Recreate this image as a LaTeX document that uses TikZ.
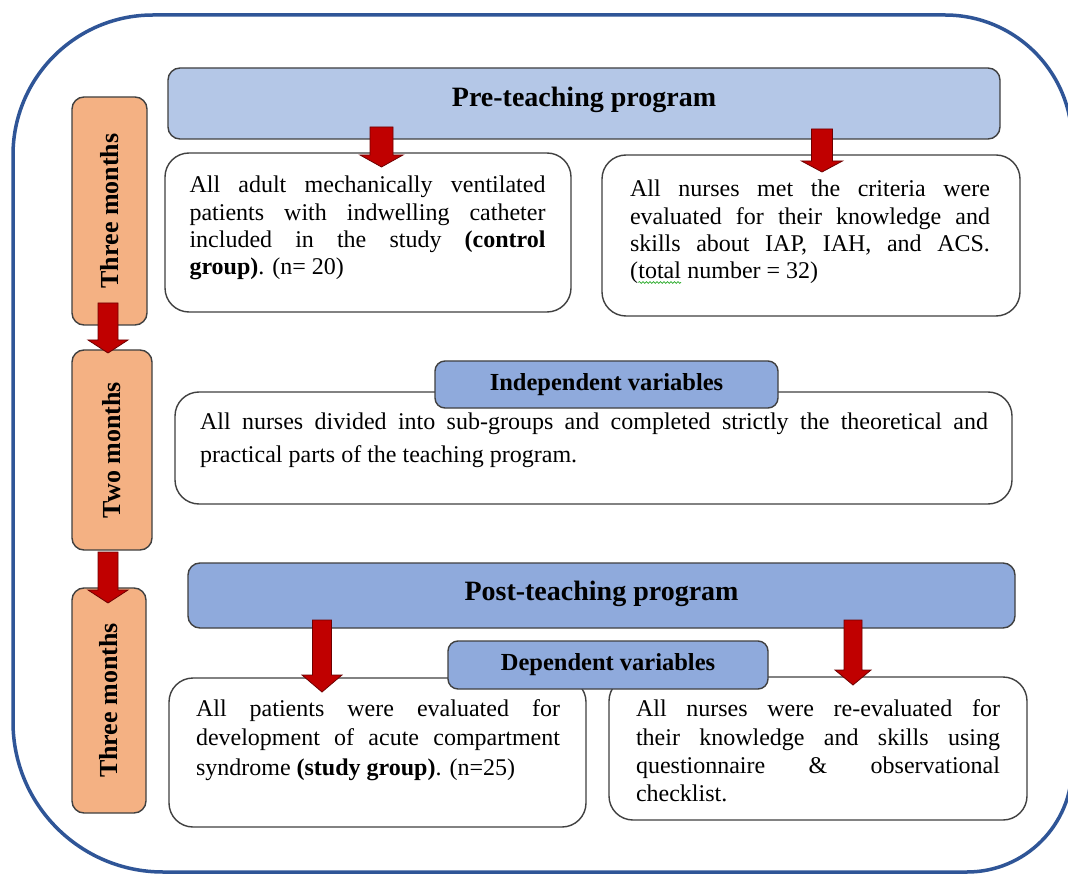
\documentclass[tikz,border=0pt]{standalone}
\usepackage{fontspec}
\setmainfont{Liberation Serif}
\usetikzlibrary{decorations.pathmorphing}
\definecolor{framecol}{RGB}{47,85,151}
\definecolor{boxline}{RGB}{64,64,64}
\definecolor{lightblue}{RGB}{180,199,231}
\definecolor{midblue}{RGB}{143,170,220}
\definecolor{orangefill}{RGB}{244,177,131}
\definecolor{arrowred}{RGB}{192,0,0}
\definecolor{arrowline}{RGB}{110,0,0}
\definecolor{squiggreen}{RGB}{40,170,40}
\newcommand\blockarrow[6]{%
  \draw[redarrow] ({#1-#5},#2) -- ({#1+#5},#2) -- ({#1+#5},#3) -- ({#1+#6},#3)
    -- (#1,#4) -- ({#1-#6},#3) -- ({#1-#5},#3) -- cycle;}
\begin{document}
\begin{tikzpicture}[x=1pt,y=-1pt,
  box/.style={draw=boxline, line width=1.4pt, inner sep=0pt, outer sep=0pt},
  whitebox/.style={box, fill=white, rounded corners=24pt},
  titlebox/.style={box, rounded corners=12pt, font=\fontsize{28}{32}\selectfont\bfseries},
  subtitle/.style={box, rounded corners=10pt, fill=midblue, font=\fontsize{24.5}{28}\selectfont\bfseries},
  monthbox/.style={box, fill=orangefill, rounded corners=12pt, rotate=90, font=\fontsize{26}{30}\selectfont\bfseries},
  bodytext/.style={inner sep=0pt, outer sep=0pt, align=justify},
  redarrow/.style={fill=arrowred, draw=arrowline, line width=0.8pt, line join=miter},
  squig/.style={draw=squiggreen, line width=0.7pt, decorate, decoration={snake, amplitude=0.9pt, segment length=3.5pt}}
]
\useasboundingbox (0,0) rectangle (1068,874);
\fill[white] (0,0) rectangle (1068,874);
% outer frame
\draw[framecol, line width=3.5pt]
  (13,155) .. controls (13,77.7) and (75.7,15) .. (153,15)
  -- (945,15) .. controls (1015.1,15) and (1072,71.9) .. (1072,142)
  -- (1072,767) .. controls (1072,825) and (1025,872) .. (967,872)
  -- (163,872) .. controls (80.2,872) and (13,804.8) .. (13,722) -- cycle;

% month boxes
\node[monthbox, minimum width=228pt, minimum height=75pt] (m1) at (109.5,211) {Three months};
\node[monthbox, minimum width=200pt, minimum height=80pt] (m2) at (112,450) {Two months};
\node[monthbox, minimum width=225pt, minimum height=74pt] (m3) at (109,700.5) {Three months};

% pre-teaching
\node[titlebox, fill=lightblue, minimum width=832pt, minimum height=71pt, text depth=13pt] (pre) at (584,103.5) {Pre-teaching program};

\node[whitebox, minimum width=406pt, minimum height=159pt] (l1) at (368,232.5) {};
\node[bodytext, text width=356pt, font=\fontsize{24}{27.3}\selectfont] (l1t) at (367.5,228)
 {\tolerance=10000\hyphenpenalty=10000 All adult mechanically ventilated\linebreak patients with indwelling catheter\linebreak included in the study \textbf{(control}\linebreak \textbf{group)}. (n= 20)};

\node[whitebox, minimum width=418pt, minimum height=161pt] (r1) at (811,235.5) {};
\node[bodytext, text width=360pt, font=\fontsize{24}{27.3}\selectfont] (r1t) at (810,232)
 {\tolerance=10000\hyphenpenalty=10000 All nurses met the criteria were\linebreak evaluated for their knowledge and\linebreak skills about IAP, IAH, and ACS.\linebreak (\tikz[baseline=(tw.base)]{\node[inner sep=0pt,outer sep=0pt] (tw) {total}; \draw[squig] ([yshift=-3.5pt]tw.south west) -- ([yshift=-3.5pt]tw.south east);}\ number = 32)};

% middle
\node[whitebox, minimum width=837pt, minimum height=112pt] (mid) at (593.5,448) {};
\node[subtitle, minimum width=343pt, minimum height=47pt] (indep) at (606.5,384.5) {Independent variables};
\node[bodytext, text width=788pt, font=\fontsize{24}{33}\selectfont] (midt) at (594,440)
 {\tolerance=10000\hyphenpenalty=10000 All nurses divided into sub-groups and completed strictly the theoretical and\linebreak practical parts of the teaching program.};

% post-teaching
\node[titlebox, fill=midblue, minimum width=827pt, minimum height=65pt, text depth=10pt] (post) at (601.5,595.5) {Post-teaching program};

\node[whitebox, minimum width=417pt, minimum height=149pt] (bl) at (377.5,752.5) {};
\node[bodytext, text width=364pt, font=\fontsize{24}{29.3}\selectfont] (blt) at (378,740)
 {\tolerance=10000\hyphenpenalty=10000 All patients were evaluated for\linebreak development of acute compartment\linebreak syndrome \textbf{(study group)}. (n=25)};

\node[whitebox, minimum width=418pt, minimum height=143pt] (br) at (818,748.5) {};
\node[bodytext, text width=364pt, font=\fontsize{24}{28.4}\selectfont] (brt) at (818,751)
 {\tolerance=10000\hyphenpenalty=10000 All nurses were re-evaluated for\linebreak their knowledge and skills using\linebreak questionnaire \& observational\linebreak checklist.};

\node[subtitle, minimum width=320pt, minimum height=48pt] (dep) at (608,665) {Dependent variables};

% arrows
\blockarrow{381.5}{127}{155}{167}{11.5}{21.5}
\blockarrow{822}{129}{161}{172}{10.5}{20.5}
\blockarrow{322}{620}{675}{692}{9.5}{20}
\blockarrow{853}{620}{670}{685}{9}{18}
\blockarrow{108}{303}{340}{353}{10}{20}
\blockarrow{108}{552}{590}{603}{10}{20}
\end{tikzpicture}
\end{document}
